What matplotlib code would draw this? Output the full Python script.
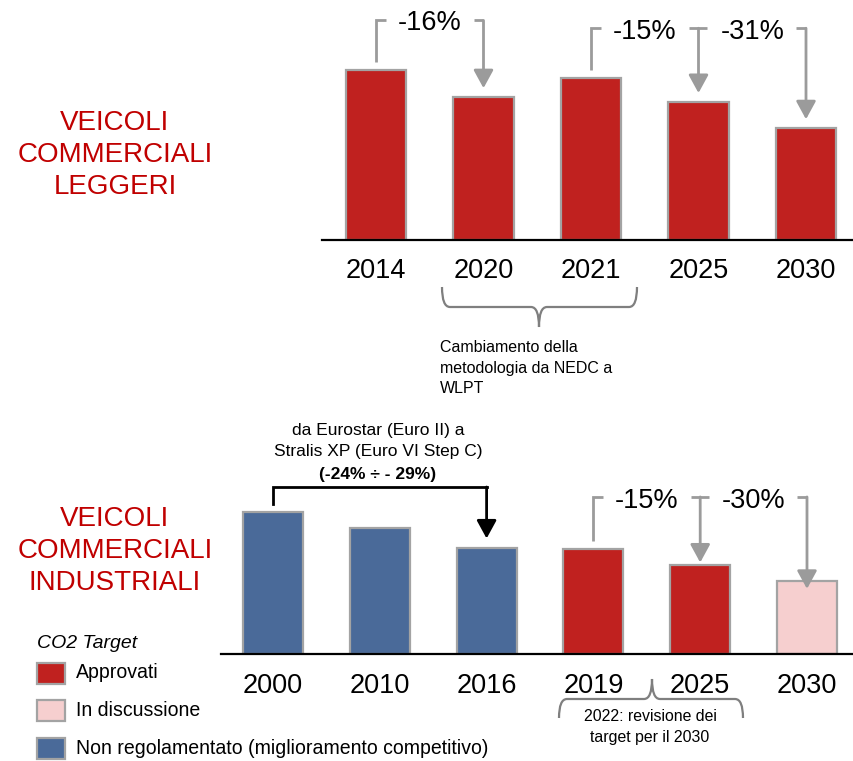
import matplotlib
matplotlib.use("Agg")
import matplotlib.pyplot as plt
from matplotlib import font_manager
from matplotlib.patches import Rectangle, PathPatch
from matplotlib.path import Path
import numpy as np

plt.rcParams['font.family'] = 'Liberation Sans'

# pick a narrow face if the system has one
names = {f.name for f in font_manager.fontManager.ttflist}
NARROW = 'Liberation Sans Narrow' if 'Liberation Sans Narrow' in names else 'Liberation Sans'
narrow_scale = 1.0 if NARROW == 'Liberation Sans Narrow' else 0.88

# ---- data ----
lcv_years = ['2014', '2020', '2021', '2025', '2030']
lcv_values = [175, 147, 167, 142, 115]          # g/km (approx.)
lcv_status = ['app', 'app', 'app', 'app', 'app']

hcv_years = ['2000', '2010', '2016', '2019', '2025', '2030']
hcv_values = [100, 89, 75, 74, 63, 51.5]        # index (approx.)
hcv_status = ['non', 'non', 'non', 'app', 'app', 'disc']

# (from bar, to bar, label) reductions
lcv_steps = [(0, 1, '-16%'), (2, 3, '-15%'), (3, 4, '-31%')]
hcv_steps = [(3, 4, '-15%'), (4, 5, '-30%')]

legend_keys = ['app', 'disc', 'non']
legend_labels = ['Approvati', 'In discussione',
                 'Non regolamentato (miglioramento competitivo)']

RED = '#c0211f'
PINK = '#f6cfcf'
BLUE = '#4a6a99'
GREY = '#9b9b9b'
EDGE = '#a3a3a3'
TITLE_RED = '#c00000'
status_color = {'app': RED, 'disc': PINK, 'non': BLUE}

W, H = 854, 761
fig = plt.figure(figsize=(W / 100, H / 100), dpi=100)

# overlay in pixel coordinates for free text, braces and legend
ov = fig.add_axes([0, 0, 1, 1])
ov.set_xlim(0, W)
ov.set_ylim(H, 0)
ov.axis('off')

ARROW = dict(arrowstyle='-|>,head_length=0.55,head_width=0.3', lw=2,
             mutation_scale=20, shrinkA=0, shrinkB=0)


def make_axes(left, right, top, base):
    ax = fig.add_axes([left / W, (H - base) / H, (right - left) / W, (base - top) / H])
    ax.set_facecolor('none')
    for s in ['top', 'right', 'left']:
        ax.spines[s].set_visible(False)
    ax.spines['bottom'].set_linewidth(1.6)
    ax.spines['bottom'].set_color('black')
    ax.set_yticks([])
    ax.tick_params(axis='x', length=0)
    return ax


def down_arrow(ax, x, level, tip, color):
    ax.annotate('', xy=(x, tip), xytext=(x, level), annotation_clip=False,
                arrowprops=dict(ARROW, color=color))


def step(ax, a, b, y_start, level, y_tip, label, color, dy, left=True, tee=False,
         stub=0.09):
    if left:
        ax.plot([a, a, a + stub], [y_start, level, level], color=color, lw=2,
                clip_on=False, solid_joinstyle='miter', solid_capstyle='butt')
    right_end = b + stub * 0.9 if tee else b
    ax.plot([b - stub, right_end], [level, level], color=color, lw=2,
            clip_on=False, solid_capstyle='butt')
    down_arrow(ax, b, level, y_tip, color)
    ax.text((a + b) / 2, level - dy, label, ha='center', va='center',
            fontsize=19.5, color='black', clip_on=False)


# ---- top chart: light commercial vehicles ----
ax1 = make_axes(322, 854, 0, 240)
pxu1 = 170 / 175.0           # pixels per unit
x1 = np.arange(len(lcv_years))
ax1.set_xlim(-54 / 107.5, 478 / 107.5)
ax1.set_ylim(0, 240 / pxu1)
ax1.bar(x1, lcv_values, width=0.56, color=[status_color[s] for s in lcv_status],
        edgecolor=EDGE, linewidth=1.6, zorder=2)
ax1.set_xticks(x1, lcv_years, fontsize=19.5)
ax1.tick_params(axis='x', pad=13)

lcv_levels = [226, 218, 218]
(a, b, lab), lev = lcv_steps[0], lcv_levels[0]
step(ax1, a, b, lcv_values[a] + 8 / pxu1, lev, lcv_values[b] + 9 / pxu1, lab, GREY,
     3 / pxu1)
(a, b, lab), lev = lcv_steps[1], lcv_levels[1]
step(ax1, a, b, lcv_values[a] + 8 / pxu1, lev, lcv_values[b] + 9 / pxu1, lab, GREY,
     4 / pxu1, tee=True)
(a, b, lab), lev = lcv_steps[2], lcv_levels[2]
step(ax1, a, b, None, lev, lcv_values[b] + 9 / pxu1, lab, GREY, 4 / pxu1,
     left=False)

# ---- bottom chart: heavy commercial vehicles ----
ax2 = make_axes(221, 854, 380, 654)
pxu2 = 142 / 100.0
x2 = np.arange(len(hcv_years))
ax2.set_xlim(-52 / 106.8, 581 / 106.8)
ax2.set_ylim(0, 274 / pxu2)
ax2.bar(x2, hcv_values, width=0.56, color=[status_color[s] for s in hcv_status],
        edgecolor=EDGE, linewidth=1.6, zorder=2)
ax2.set_xticks(x2, hcv_years, fontsize=19.5)
ax2.tick_params(axis='x', pad=14)

# black bracket 2000 -> 2016
lev_b = 117.6
ax2.plot([0, 0, 2], [hcv_values[0] + 8 / pxu2, lev_b, lev_b], color='black', lw=2,
         clip_on=False, solid_joinstyle='miter')
down_arrow(ax2, 2, lev_b, hcv_values[2] + 9 / pxu2, 'black')

lev_g = 110.6
a, b, lab = hcv_steps[0]
step(ax2, a, b, hcv_values[a] + 8 / pxu2, lev_g, hcv_values[b] + 2 / pxu2, lab, GREY,
     4 / pxu2, tee=True)
a, b, lab = hcv_steps[1]
step(ax2, a, b, None, lev_g, hcv_values[b] - 8 / pxu2, lab, GREY, 4 / pxu2,
     left=False)

# ---- free text (pixel coords) ----
ov.text(115, 155, 'VEICOLI\nCOMMERCIALI\nLEGGERI', ha='center', va='center',
        fontsize=20, color=TITLE_RED, linespacing=1.32)
ov.text(115, 551, 'VEICOLI\nCOMMERCIALI\nINDUSTRIALI', ha='center', va='center',
        fontsize=20, color=TITLE_RED, linespacing=1.32)

ov.text(440, 368, 'Cambiamento della\nmetodologia da NEDC a\nWLPT', ha='left',
        va='center', fontsize=11.5, linespacing=1.45)

ov.text(378, 441, 'da Eurostar (Euro II) a\nStralis XP (Euro VI Step C)', ha='center',
        va='center', fontsize=12.5, linespacing=1.45)
ov.text(378, 475, '(-24% ÷ - 29%)', ha='center', va='center', fontsize=12.5,
        fontweight='bold')

ov.text(650, 727, '2022: revisione dei\ntarget per il 2030', ha='center', va='center',
        fontsize=13 * narrow_scale, family=NARROW, linespacing=1.5)


def brace(x0, x1, xm, y_end, y_bar, y_tip, r):
    verts = [(x0, y_end), (x0, y_bar), (x0 + r, y_bar),
             (xm - r, y_bar), (xm, y_bar), (xm, y_tip),
             (xm, y_bar), (xm + r, y_bar),
             (x1 - r, y_bar), (x1, y_bar), (x1, y_end)]
    codes = [Path.MOVETO, Path.CURVE3, Path.CURVE3,
             Path.LINETO, Path.CURVE3, Path.CURVE3,
             Path.CURVE3, Path.CURVE3,
             Path.LINETO, Path.CURVE3, Path.CURVE3]
    ov.add_patch(PathPatch(Path(verts, codes), fill=False, edgecolor='#7f7f7f', lw=1.6))


brace(442, 637, 539, 287, 307, 327, 8)
brace(559, 743, 652, 718, 699, 679, 8)

# ---- legend ----
ov.text(37, 643, 'CO2 Target', ha='left', va='center', fontsize=14, style='italic')
leg_y = [673, 710, 748]
for key, lab, yc in zip(legend_keys, legend_labels, leg_y):
    ov.add_patch(Rectangle((37, yc - 10.5), 28, 21, facecolor=status_color[key],
                           edgecolor=EDGE, lw=1.6))
    ov.text(76, yc, lab, ha='left', va='center', fontsize=16 * narrow_scale,
            family=NARROW)

fig.savefig('out.png', dpi=100)
